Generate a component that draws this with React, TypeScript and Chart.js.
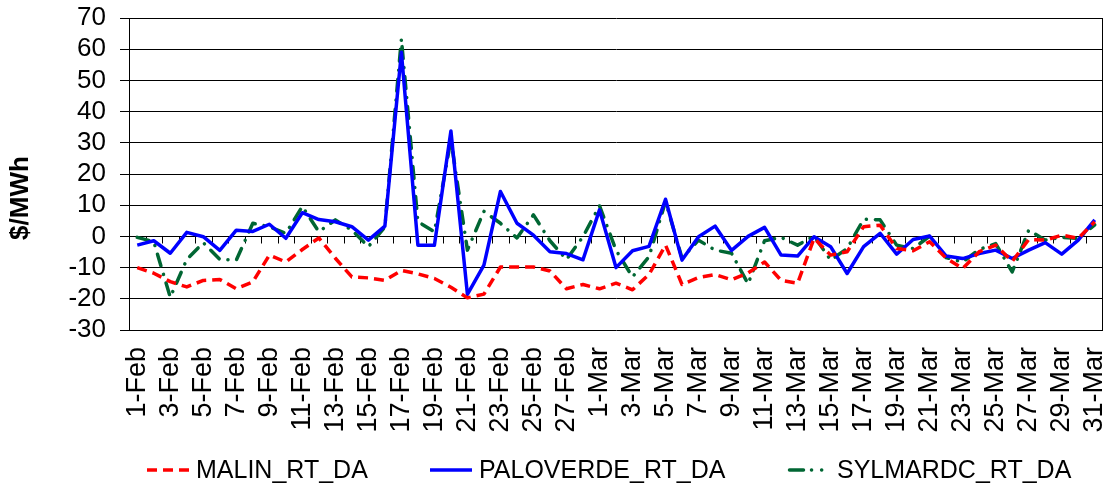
import React, { useEffect, useRef } from "react";
import { Chart, registerables } from "chart.js";

Chart.register(...registerables);

const categories: string[] = [
  "1-Feb", "2-Feb", "3-Feb", "4-Feb", "5-Feb", "6-Feb", "7-Feb", "8-Feb", "9-Feb", "10-Feb",
  "11-Feb", "12-Feb", "13-Feb", "14-Feb", "15-Feb", "16-Feb", "17-Feb", "18-Feb", "19-Feb", "20-Feb",
  "21-Feb", "22-Feb", "23-Feb", "24-Feb", "25-Feb", "26-Feb", "27-Feb", "28-Feb",
  "1-Mar", "2-Mar", "3-Mar", "4-Mar", "5-Mar", "6-Mar", "7-Mar", "8-Mar", "9-Mar", "10-Mar",
  "11-Mar", "12-Mar", "13-Mar", "14-Mar", "15-Mar", "16-Mar", "17-Mar", "18-Mar", "19-Mar", "20-Mar",
  "21-Mar", "22-Mar", "23-Mar", "24-Mar", "25-Mar", "26-Mar", "27-Mar", "28-Mar", "29-Mar", "30-Mar",
  "31-Mar",
];

const malin: number[] = [
  -10, -11.8, -14.5, -16.2, -14.1, -13.8, -16.8, -14.6, -6, -8.2,
  -4.2, -0.5, -7, -13, -13.3, -14.1, -10.9, -12, -13.5, -16.3,
  -19.7, -18.5, -9.8, -9.8, -9.8, -11.1, -16.8, -15.4,
  -16.8, -15, -17.1, -12.2, -2.8, -15.4, -13.2, -12.2, -13.9, -11.7,
  -8.2, -14.1, -15, -0.6, -6, -4.9, 3.1, 3.6, -3.9, -4.6,
  -1.7, -7, -10.3, -4.9, -2.8, -8, -1, -1.2, 0.4, -0.6,
  4.7,
];

const paloverde: number[] = [
  -2.8, -1.4, -5.4, 1.3, -0.1, -4.5, 2.0, 1.6, 3.9, -0.6,
  7.6, 5.4, 4.7, 3.1, -1.2, 3.3, 59, -2.8, -2.8, 33.8,
  -18.6, -9.2, 14.4, 4.2, 0.4, -4.9, -5.5, -7.5,
  8.5, -10, -4.6, -3.2, 11.9, -7.6, -0.1, 3.3, -4.5, 0,
  2.9, -6, -6.3, -0.1, -3.3, -11.9, -3.3, 1, -5.7, -1,
  0.1, -6.3, -7.1, -5.5, -4.4, -7.1, -4.4, -2, -5.7, -1.2,
  5.3,
];

const sylmardc: number[] = [
  -0.3, -1.7, -19.5, -7.4, -2.0, -7.4, -7.6, 4.2, 3.1, 1,
  9.6, 1.5, 5.3, 2, -3.3, 3, 63.3, 4.7, 1.5, 31,
  -4.4, 8, 4.2, -0.5, 6.9, -1.4, -7.4, -0.1,
  9.8, -4.4, -13, -6.5, 11.2, -7, -1.2, -4.4, -5.4, -15.2,
  -1.4, -0.3, -2.8, 0.1, -7.6, -3.9, 5.5, 5.3, -2.8, -3.9,
  0.1, -6.8, -8.2, -4.2, -2.3, -11.4, 2, -1.2, -0.3, -0.6,
  3.7,
];

const seriesNames: string[] = ["MALIN_RT_DA", "PALOVERDE_RT_DA", "SYLMARDC_RT_DA"];
const yTicks = { min: -30, max: 70, step: 10 };
const yTitle = "$/MWh";

const FONT = "'Liberation Sans', Arial, sans-serif";

const colors = ["#ff0000", "#0000ff", "#006633"];
const dashes: number[][] = [[10, 6], [], [12, 9, 0.1, 9]];
const caps: CanvasLineCap[] = ["butt", "butt", "round"];

const decorPlugin = {
  id: "decor",
  beforeDatasetsDraw(chart: any) {
    const { ctx, chartArea } = chart;
    const yScale = chart.scales.y;
    const n = categories.length;
    const catW = (chartArea.right - chartArea.left) / n;
    const y0 = Math.round(yScale.getPixelForValue(0)) + 0.5;
    ctx.save();
    ctx.strokeStyle = "#000";
    ctx.lineWidth = 1;
    ctx.beginPath();
    for (let k = 0; k < n; k++) {
      const x = Math.round(chartArea.left + k * catW) + 0.5;
      ctx.moveTo(x, y0);
      ctx.lineTo(x, y0 + 7);
    }
    const xr = Math.round(chartArea.right) - 0.5;
    ctx.moveTo(xr, chartArea.top);
    ctx.lineTo(xr, chartArea.bottom);
    ctx.stroke();
    ctx.restore();
  },
  afterDraw(chart: any) {
    const { ctx } = chart;
    ctx.save();
    ctx.translate(21, 198);
    ctx.rotate(-Math.PI / 2);
    ctx.font = `bold 26px ${FONT}`;
    ctx.fillStyle = "#000";
    ctx.textAlign = "center";
    ctx.textBaseline = "middle";
    ctx.fillText(yTitle, 0, 0);
    ctx.restore();

    const starts = [147, 430, 788];
    const ly = 470;
    ctx.save();
    ctx.font = `25px ${FONT}`;
    ctx.textBaseline = "middle";
    ctx.textAlign = "left";
    seriesNames.forEach((name, i) => {
      const x = starts[i];
      ctx.save();
      ctx.strokeStyle = colors[i];
      ctx.lineWidth = 3.5;
      ctx.lineCap = caps[i];
      ctx.setLineDash(dashes[i].length ? (i === 2 ? [14, 8, 0.1, 10, 0.1, 10] : dashes[i]) : []);
      ctx.beginPath();
      ctx.moveTo(x + (i === 2 ? 1.5 : 0), ly);
      ctx.lineTo(x + 42, ly);
      ctx.stroke();
      ctx.restore();
      ctx.fillStyle = "#000";
      ctx.fillText(name, x + 49, ly + 1);
    });
    ctx.restore();
  },
};

export default function App() {
  const ref = useRef<HTMLCanvasElement | null>(null);

  useEffect(() => {
    if (!ref.current) return;
    const data = [malin, paloverde, sylmardc];
    const chart = new Chart(ref.current, {
      type: "line",
      data: {
        labels: categories,
        datasets: seriesNames.map((name, i) => ({
          label: name,
          data: data[i],
          borderColor: colors[i],
          backgroundColor: colors[i],
          borderWidth: 3.5,
          borderDash: dashes[i],
          borderCapStyle: caps[i],
          borderJoinStyle: "round" as CanvasLineJoin,
          pointRadius: 0,
          pointHoverRadius: 0,
          tension: 0,
          fill: false,
        })),
      },
      options: {
        animation: false,
        responsive: false,
        maintainAspectRatio: false,
        events: [],
        layout: { padding: { left: 0, right: 7, top: 18, bottom: 0 } },
        plugins: {
          legend: { display: false },
          tooltip: { enabled: false },
          title: { display: false },
        },
        scales: {
          x: {
            type: "category",
            offset: true,
            grid: { display: false, drawTicks: false },
            border: { display: false },
            ticks: {
              autoSkip: false,
              maxRotation: 90,
              minRotation: 90,
              padding: 17,
              color: "#000",
              font: { family: FONT, size: 27 },
              callback: (_v: any, idx: number) => (idx % 2 === 0 ? categories[idx] : ""),
            },
            afterFit: (scale: any) => {
              scale.height = 157;
              scale.paddingLeft = 0;
              scale.paddingRight = 0;
            },
          },
          y: {
            min: yTicks.min,
            max: yTicks.max,
            grid: {
              color: "#000",
              lineWidth: 1,
              drawTicks: true,
              tickLength: 9,
              tickColor: "#000",
            },
            border: { display: true, color: "#000", width: 1 },
            ticks: {
              stepSize: yTicks.step,
              autoSkip: false,
              padding: 14,
              color: "#000",
              font: { family: FONT, size: 26 },
            },
            afterFit: (scale: any) => {
              scale.width = 129;
              scale.paddingTop = 0;
              scale.paddingBottom = 0;
            },
          },
        },
      },
      plugins: [decorPlugin],
    });
    return () => chart.destroy();
  }, []);

  return (
    <div style={{ position: "absolute", left: 0, top: 0, width: 1110, height: 487, background: "#fff" }}>
      <canvas ref={ref} width={1110} height={487} style={{ display: "block", width: 1110, height: 487 }} />
    </div>
  );
}
